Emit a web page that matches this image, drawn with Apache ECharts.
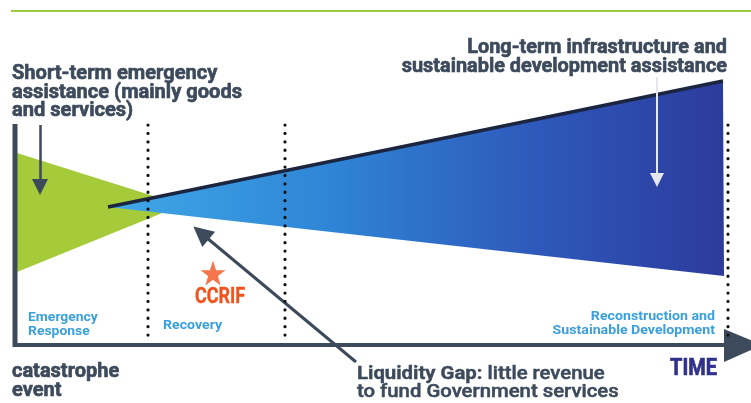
<!DOCTYPE html>
<html>
<head>
<meta charset="utf-8">
<script src="https://cdn.jsdelivr.net/npm/echarts@6/dist/echarts.min.js"></script>
<style>
  html, body { margin: 0; padding: 0; background: #fff; }
  #chart { width: 751px; height: 403px; }
</style>
</head>
<body>
<div id="chart"></div>
<script>
// diagram geometry, in axis units (x = time to the right, y = down from top)
const shortTermWedge = [[17, 153], [17, 272], [182, 205]];
const longTermWedge = [[108, 207], [723, 82], [724, 276]];
const longTermEdge = [[108, 207], [723, 81]];
const phaseDividers = [148, 285, 728];
const timeAxis = [[14, 345], [728, 345]];
const levelAxis = [[15, 124], [15, 347]];
const timeArrowHead = [[724, 329], [724, 362], [762, 345]];
const shortTermArrow = [[40, 125], [40, 187]];
const longTermArrow = [[657, 77], [657, 180]];
const gapArrow = [[356, 362], [201, 233]];
const ccrifPoint = [[213, 273]];

const phaseNames = ["Emergency\nResponse", "Recovery", "Reconstruction and\nSustainable Development"];
const shortTermText = "Short-term emergency\nassistance (mainly goods\nand services)";
const longTermText = "Long-term infrastructure and\nsustainable development assistance";
const eventText = "catastrophe\nevent";
const gapHead = "Liquidity Gap:";
const gapLines = [" little revenue", "to fund Government services"];

const FONT = "Roboto";
const DARK = "#3c4a5b";
const LABEL_BLUE = "#3b9fdc";
const ORANGE = "#f1531f";

const chart = echarts.init(document.getElementById("chart"));

function polygon(name, pts, fill, z) {
  return {
    type: "custom", name: name, z: z, silent: true,
    data: [0],
    renderItem: (params, api) => ({
      type: "polygon",
      shape: { points: pts.map(p => api.coord(p)) },
      style: { fill: fill }
    })
  };
}

function segment(name, pts, color, width, z, dash) {
  return {
    type: "custom", name: name, z: z, silent: true,
    data: [0],
    renderItem: (params, api) => {
      const a = api.coord(pts[0]), b = api.coord(pts[1]);
      return {
        type: "line",
        shape: { x1: a[0], y1: a[1], x2: b[0], y2: b[1] },
        style: { stroke: color, lineWidth: width, lineDash: dash || null, lineCap: dash ? "round" : "butt" }
      };
    }
  };
}

function arrow(name, pts, color, width, head, z) {
  return {
    type: "lines", name: name, coordinateSystem: "cartesian2d", z: z, silent: true,
    symbol: ["none", "triangle"],
    symbolSize: head,
    lineStyle: { color: color, width: width, opacity: 1 },
    data: [{ coords: pts }]
  };
}

const blueFill = new echarts.graphic.LinearGradient(0, 0, 1, 0, [
  { offset: 0, color: "#40a8e8" },
  { offset: 0.35, color: "#2f86d6" },
  { offset: 0.7, color: "#2e58bb" },
  { offset: 1, color: "#2c3b9c" }
]);

const series = [
  polygon("short-term", shortTermWedge, "#a5cb3b", 2),
  polygon("long-term", longTermWedge, blueFill, 3),
  segment("long-term edge", longTermEdge, "#1c2540", 3.5, 4),
  segment("time axis", timeAxis, DARK, 4, 5),
  segment("level axis", levelAxis, DARK, 5, 5),
  polygon("time arrow", timeArrowHead, DARK, 5),
  arrow("short-term arrow", shortTermArrow, DARK, 2.5, [22, 16], 6),
  arrow("long-term arrow", longTermArrow, "#e4e8ee", 2, [15, 14], 6),
  arrow("gap arrow", gapArrow, DARK, 3, [20, 20], 7),
  {
    type: "scatter", name: "CCRIF", z: 6, silent: true,
    symbol: "path://M50,0 L61.8,35.1 L98.1,35.1 L68.8,56.7 L79.4,90.9 L50,70 L20.6,90.9 L31.2,56.7 L1.9,35.1 L38.2,35.1 Z",
    symbolSize: 25,
    itemStyle: { color: ORANGE },
    data: ccrifPoint
  }
];

phaseDividers.forEach((x, i) => {
  series.push(segment("divider " + i, [[x, 125], [x, 343]], "#111", 3.2, 8, [0.1, 8.3]));
});

// heavy headings: bold plus a thin same-colour stroke
const txt = (text, x, y, size, color, align, extra, sx, stroke, sy) => ({
  type: "text", x: x, y: y, z: 20, silent: true,
  scaleX: sx || 1, scaleY: sy || 1,
  style: Object.assign({
    text: text, fill: color, font: "bold " + size + "px " + FONT,
    align: align || "left", verticalAlign: "top",
    stroke: stroke ? color : null, lineWidth: stroke || 0
  }, extra || {})
});

const option = {
  animation: false,
  grid: { left: 0, right: 0, top: 0, bottom: 0 },
  xAxis: { type: "value", min: 0, max: 751, show: false },
  yAxis: { type: "value", min: 0, max: 403, inverse: true, show: false },
  graphic: [
    { type: "rect", shape: { x: 11, y: 10, width: 740, height: 2 }, style: { fill: "#9dcb3b" } },
    txt(shortTermText, 12, 65, 19.5, DARK, "left", { lineHeight: 18.5 }, 1.03, 0.6),
    txt(longTermText, 727, 39, 19.5, DARK, "right", { lineHeight: 19 }, 1.02, 0.6),
    txt(phaseNames[0], 28, 310, 13.5, LABEL_BLUE, "left", { lineHeight: 14.5 }, 1.03),
    txt(phaseNames[1], 163, 319, 13.5, LABEL_BLUE, "left", null, 1.05),
    txt(phaseNames[2], 715, 309, 13.5, LABEL_BLUE, "right", { lineHeight: 14.5 }, 1.05),
    txt("CCRIF", 220, 287, 18, ORANGE, "center", null, 1, 0.3, 1.2),
    txt(eventText, 12, 362, 20, DARK, "left", { lineHeight: 19 }, 1, 0.6),
    {
      type: "text", x: 357, y: 365, z: 20, silent: true, scaleX: 1.07,
      style: {
        text: "{b|" + gapHead + "}{m|" + gapLines[0] + "}\n{m|" + gapLines[1] + "}",
        fill: DARK, verticalAlign: "top",
        rich: {
          b: { font: "bold 19px " + FONT, fill: DARK, lineHeight: 18, stroke: DARK, lineWidth: 0.4 },
          m: { font: "500 19px " + FONT, fill: DARK, lineHeight: 18, stroke: DARK, lineWidth: 0.5 }
        }
      }
    },
    txt("TIME", 717, 358, 20, "#2f318c", "right", null, 1, 0.6, 1.15)
  ],
  series: series
};

chart.setOption(option);
window.addEventListener("resize", () => chart.resize());
</script>
</body>
</html>
